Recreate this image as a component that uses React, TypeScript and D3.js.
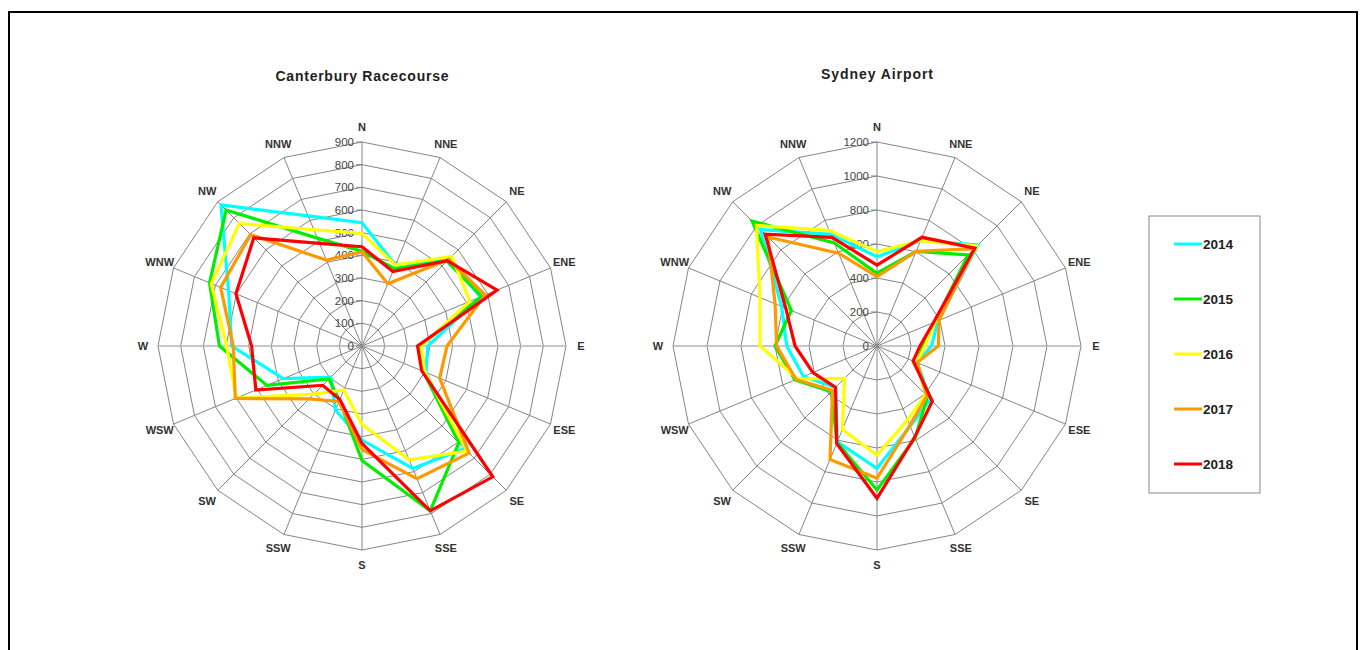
import React from "react";
import * as d3 from "d3";

const DIRECTIONS = ["N", "NNE", "NE", "ENE", "E", "ESE", "SE", "SSE", "S", "SSW", "SW", "WSW", "W", "WNW", "NW", "NNW"];
const YEARS = ["2014", "2015", "2016", "2017", "2018"];
const YEAR_COLORS = ["#00ffff", "#00ee00", "#ffff00", "#ff9900", "#ff0000"];

const CANTERBURY_TICKS = [0, 100, 200, 300, 400, 500, 600, 700, 800, 900];
const SYDNEY_TICKS = [0, 200, 400, 600, 800, 1000, 1200];

// Canterbury Racecourse (order: N, NNE, NE, ENE, E, ESE, SE, SSE, S, SSW, SW, WSW, W, WNW, NW, NNW)
const canterbury2014 = [544, 386, 545, 565, 290, 305, 640, 585, 415, 306, 195, 375, 575, 637, 880, 621];
const canterbury2015 = [418, 370, 530, 571, 255, 293, 604, 787, 505, 260, 206, 454, 629, 728, 848, 515];
const canterbury2016 = [497, 386, 560, 515, 260, 300, 655, 543, 345, 210, 300, 600, 597, 720, 765, 555];
const canterbury2017 = [416, 297, 540, 588, 375, 371, 668, 634, 457, 265, 330, 605, 568, 675, 695, 410];
const canterbury2018 = [438, 356, 532, 645, 245, 285, 816, 787, 430, 255, 245, 507, 487, 602, 675, 490];

// Sydney Airport
const sydney2014 = [525, 670, 841, 390, 320, 255, 445, 510, 719, 610, 345, 468, 531, 607, 969, 711];
const sydney2015 = [428, 602, 758, 370, 272, 255, 420, 586, 847, 615, 380, 522, 600, 545, 1039, 656];
const sydney2016 = [555, 670, 830, 370, 282, 255, 405, 470, 641, 532, 270, 505, 688, 745, 1003, 736];
const sydney2017 = [408, 602, 810, 395, 361, 255, 415, 505, 778, 722, 370, 515, 590, 649, 907, 591];
const sydney2018 = [476, 692, 814, 360, 253, 230, 460, 580, 896, 620, 345, 408, 482, 581, 930, 692];

const CANTERBURY = [canterbury2014, canterbury2015, canterbury2016, canterbury2017, canterbury2018];
const SYDNEY = [sydney2014, sydney2015, sydney2016, sydney2017, sydney2018];

const FONT = "'Liberation Sans', Arial, Helvetica, sans-serif";
const RADIUS = 204;

type RadarProps = {
  cx: number;
  cy: number;
  title: string;
  titleY: number;
  titleWidth: number;
  ticks: number[];
  series: number[][];
};

function Radar({ cx, cy, title, titleY, titleWidth, ticks, series }: RadarProps) {
  const maxV = ticks[ticks.length - 1];
  const r = d3.scaleLinear().domain([0, maxV]).range([0, RADIUS]);
  const angle = d3.scaleLinear().domain([0, DIRECTIONS.length]).range([0, 2 * Math.PI]);
  const poly = d3
    .lineRadial<number>()
    .angle((_, i) => angle(i))
    .radius((d) => r(d))
    .curve(d3.curveLinearClosed);

  return (
    <g>
      <text
        x={cx}
        y={titleY}
        textAnchor="middle"
        fontFamily={FONT}
        fontWeight="bold"
        fontSize={14}
        fill="#222"
        textLength={titleWidth}
        lengthAdjust="spacing"
      >
        {title}
      </text>
      <g transform={`translate(${cx},${cy})`}>
        {ticks.slice(1).map((t) => (
          <path key={"ring" + t} d={poly(DIRECTIONS.map(() => t)) || ""} fill="none" stroke="#858585" strokeWidth={1} />
        ))}
        {DIRECTIONS.map((d, i) => {
          const [x, y] = d3.pointRadial(angle(i), RADIUS);
          const horiz = d === "E" || d === "W";
          return (
            <line
              key={"sp" + d}
              x1={0}
              y1={0}
              x2={x}
              y2={y}
              stroke={horiz ? "#b4b4b4" : "#858585"}
              strokeWidth={horiz ? 1.6 : 1}
            />
          );
        })}
        {ticks.map((t) => (
          <g key={"tk" + t}>
            <line x1={-6} x2={0} y1={-r(t)} y2={-r(t)} stroke="#858585" strokeWidth={1} />
            <text
              x={-8}
              y={-r(t)}
              dy="0.35em"
              textAnchor="end"
              fontFamily={FONT}
              fontSize={11.5}
              fill="#444"
            >
              {t}
            </text>
          </g>
        ))}
        {DIRECTIONS.map((d, i) => {
          const [x, y] = d3.pointRadial(angle(i), 219);
          return (
            <text
              key={"lb" + d}
              x={x}
              y={y}
              dy="0.35em"
              textAnchor="middle"
              fontFamily={FONT}
              fontWeight="bold"
              fontSize={11}
              fill="#333"
            >
              {d}
            </text>
          );
        })}
        {series.map((vals, k) => (
          <path
            key={"s" + k}
            d={poly(vals) || ""}
            fill="none"
            stroke={YEAR_COLORS[k]}
            strokeWidth={3.2}
            strokeLinejoin="miter"
          />
        ))}
      </g>
    </g>
  );
}

export default function App() {
  const legendY = d3.scalePoint<string>().domain(YEARS).range([244, 464]);
  return (
    <svg
      width={1365}
      height={650}
      style={{ position: "fixed", left: 0, top: 0, background: "#fff" }}
    >
      <rect x={0} y={0} width={1365} height={650} fill="#fff" />
      <rect x={9} y={12} width={1348} height={680} fill="none" stroke="#000" strokeWidth={2} />
      <Radar
        cx={362}
        cy={346}
        title="Canterbury Racecourse"
        titleY={81}
        titleWidth={173}
        ticks={CANTERBURY_TICKS}
        series={CANTERBURY}
      />
      <Radar
        cx={877}
        cy={346}
        title="Sydney Airport"
        titleY={79}
        titleWidth={112}
        ticks={SYDNEY_TICKS}
        series={SYDNEY}
      />
      <g>
        <rect x={1149} y={216} width={111} height={277} fill="#fff" stroke="#888" strokeWidth={1} />
        {YEARS.map((y, k) => (
          <g key={"lg" + y}>
            <line x1={1174} x2={1202} y1={legendY(y)} y2={legendY(y)} stroke={YEAR_COLORS[k]} strokeWidth={3} />
            <text
              x={1203}
              y={legendY(y)}
              dy="0.35em"
              fontFamily={FONT}
              fontWeight="bold"
              fontSize={13.5}
              fill="#222"
            >
              {y}
            </text>
          </g>
        ))}
      </g>
    </svg>
  );
}
